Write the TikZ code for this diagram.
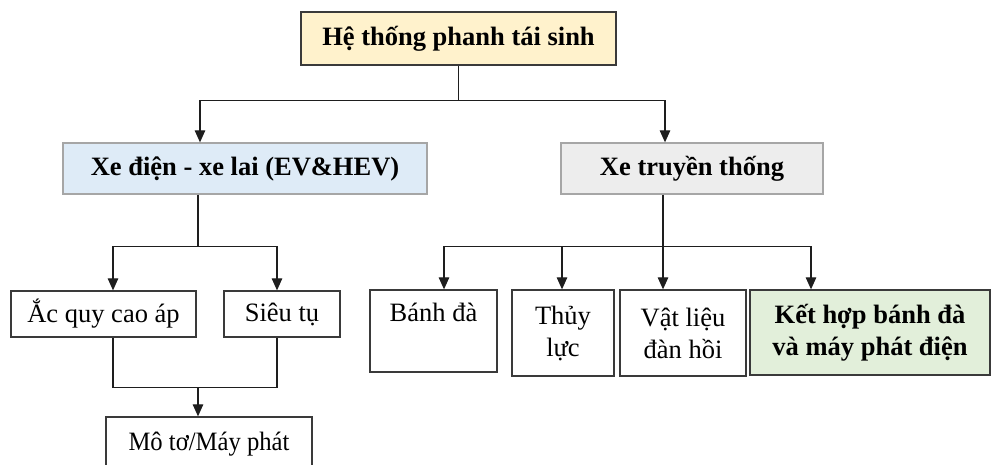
\documentclass[tikz,border=0pt]{standalone}
\usepackage{fontspec}
\setmainfont{Liberation Serif}
\usetikzlibrary{arrows.meta}
\definecolor{topfill}{HTML}{FFF2CC}
\definecolor{evfill}{HTML}{DEEBF7}
\definecolor{convfill}{HTML}{EDEDED}
\definecolor{combfill}{HTML}{E2EFDA}
\definecolor{darkline}{HTML}{3A3A3A}
\definecolor{lightline}{HTML}{A6A6A6}
\definecolor{wire}{HTML}{1E1E1E}
\tikzset{
  box/.style={draw=darkline, line width=1.3pt, inner sep=0pt, align=center,
    font=\fontsize{26.5}{32}\selectfont},
  headbox/.style={box, font=\fontsize{26.5}{32}\selectfont\bfseries},
  link/.style={draw=wire, line width=1.2pt},
  arrow/.style={link, -{Triangle[length=12pt,width=10.5pt]}},
}
\begin{document}
\begin{tikzpicture}[x=1pt,y=-1pt]
\useasboundingbox (0,0) rectangle (992,464);
\clip (0,0) rectangle (992,464);

% top level
\node[headbox, fill=topfill, minimum width=315pt, minimum height=53pt] (top) at (458.5,38.5) {Hệ thống phanh tái sinh};

% second level
\node[headbox, draw=lightline, fill=evfill, minimum width=364pt, minimum height=51pt] (ev) at (245,168.5) {Xe điện - xe lai (EV\&HEV)};
\node[headbox, draw=lightline, fill=convfill, minimum width=262pt, minimum height=51pt] (conv) at (692,168.5) {Xe truyền thống};

% electric / hybrid branch
\node[box, minimum width=185pt, minimum height=46pt] (battery) at (103.5,314) {Ắc quy cao áp};
\node[box, minimum width=116pt, minimum height=46pt] (supercap) at (282,314) {Siêu tụ};
\node[box, minimum width=206pt, minimum height=54pt] (motor) at (209,444) {\scalebox{0.93}[1]{Mô tơ/Máy phát}};

% conventional branch
\node[box, minimum width=127pt, minimum height=82pt] (flywheel) at (433.5,331) {\raisebox{-5pt}{Bánh đà}\\\strut};
\node[box, minimum width=102pt, minimum height=86pt] (hydraulic) at (563,333) {Thủy\\lực};
\node[box, minimum width=126pt, minimum height=86pt] (elastic) at (683,333) {Vật liệu\\đàn hồi};
\node[headbox, fill=combfill, minimum width=240pt, minimum height=85pt] (combined) at (870,332.5) {Kết hợp bánh đà\\và máy phát điện};

% connectors from the top box
\draw[link] (top.south) -- ++(0,35) coordinate (j1);
\draw[arrow] (j1) -| ([xshift=-45pt]ev.north);
\draw[arrow] (j1) -| ([xshift=-27pt]conv.north);

% electric / hybrid connectors
\draw[link] ([xshift=-47pt]ev.south) -- ++(0,52) coordinate (j2);
\draw[arrow] (j2) -| ([xshift=9.5pt]battery.north);
\draw[arrow] (j2) -| ([xshift=-5pt]supercap.north);
\draw[link] ([xshift=9.5pt]battery.south) -- ++(0,50) coordinate (j3) -| ([xshift=-5pt]supercap.south);
\path ([xshift=-11pt]motor.north) coordinate (mtop);
\draw[arrow] (j3 -| mtop) -- (mtop);

% conventional connectors
\draw[arrow] ([xshift=-29pt]conv.south) -- ([xshift=-20pt]elastic.north);
\path ([xshift=-29pt]conv.south) ++(0,52) coordinate (j4);
\draw[arrow] (j4) -| ([xshift=10.5pt]flywheel.north);
\draw[arrow] (j4) -| ([xshift=-1pt]hydraulic.north);
\draw[arrow] (j4) -| ([xshift=-59pt]combined.north);
\end{tikzpicture}
\end{document}
